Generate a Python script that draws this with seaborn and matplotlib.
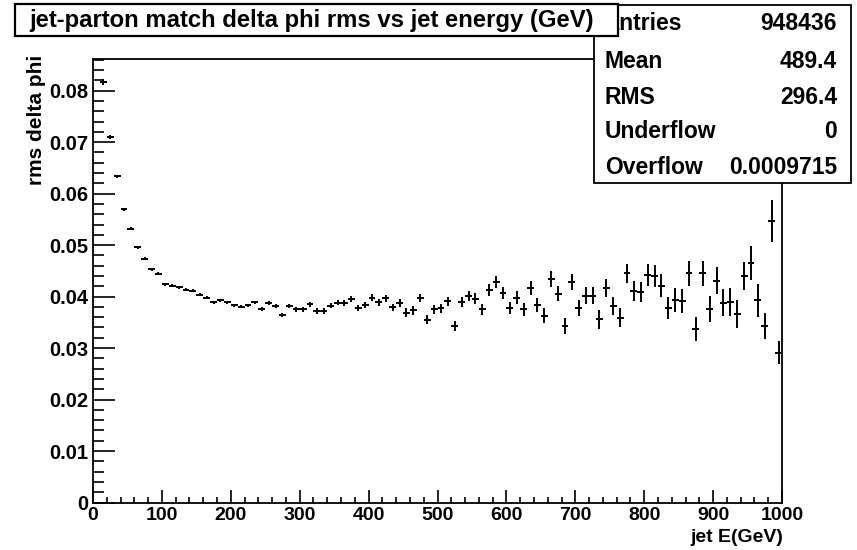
import numpy as np
import pandas as pd
import matplotlib
matplotlib.use("Agg")
import matplotlib.pyplot as plt
from matplotlib.patches import Rectangle
from matplotlib.ticker import MultipleLocator, FuncFormatter
import seaborn as sns

# Histogram: 100 bins of 10 GeV from 0 to 1000; first bin is empty
bin_width = 10
bin_centres = np.arange(15, 1000, bin_width)

rms_dphi = [
    0.0817, 0.0710, 0.0634, 0.0570, 0.0532, 0.0496, 0.0474, 0.0453, 0.0444, 0.0424,
    0.0421, 0.0418, 0.0413, 0.0411, 0.0404, 0.0398, 0.0389, 0.0393, 0.0389,
    0.0383, 0.0380, 0.0383, 0.0389, 0.0376, 0.0387, 0.0382, 0.0365, 0.0381, 0.0375,
    0.0375, 0.0385, 0.0372, 0.0372, 0.0382, 0.0388, 0.0387, 0.0396, 0.0378, 0.0383,
    0.0398, 0.0389, 0.0397, 0.0379, 0.0388, 0.0369, 0.0373, 0.0398, 0.0355, 0.0375,
    0.0377, 0.0391, 0.0343, 0.0390, 0.0401, 0.0396, 0.0375, 0.0413, 0.0428, 0.0407,
    0.0378, 0.0398, 0.0375, 0.0417, 0.0384, 0.0363, 0.0434, 0.0406, 0.0343, 0.0428,
    0.0378, 0.0402, 0.0402, 0.0356, 0.0417, 0.0382, 0.0359, 0.0445, 0.0411, 0.0409,
    0.0442, 0.0440, 0.0421, 0.0378, 0.0393, 0.0391, 0.0445, 0.0337, 0.0445, 0.0376,
    0.0431, 0.0388, 0.0389, 0.0366, 0.0440, 0.0466, 0.0393, 0.0343, 0.0547, 0.0291,
]

rms_err = [
    0.0005, 0.0004, 0.0003, 0.0003, 0.0003, 0.0003, 0.0003, 0.0003, 0.0003, 0.0003,
    0.0003, 0.0003, 0.0003, 0.0003, 0.0003, 0.0003, 0.0003, 0.0003, 0.0003,
    0.0003, 0.0003, 0.0003, 0.0003, 0.0004, 0.0004, 0.0004, 0.0004, 0.0004, 0.0004,
    0.0004, 0.0005, 0.0005, 0.0005, 0.0005, 0.0005, 0.0006, 0.0006, 0.0006, 0.0006,
    0.0007, 0.0007, 0.0007, 0.0007, 0.0008, 0.0008, 0.0008, 0.0008, 0.0009, 0.0009,
    0.0009, 0.0009, 0.0010, 0.0010, 0.0010, 0.0011, 0.0011, 0.0011, 0.0012, 0.0012,
    0.0012, 0.0012, 0.0013, 0.0013, 0.0014, 0.0014, 0.0015, 0.0015, 0.0015, 0.0016,
    0.0016, 0.0017, 0.0017, 0.0018, 0.0018, 0.0018, 0.0019, 0.0019, 0.0020, 0.0020,
    0.0021, 0.0021, 0.0022, 0.0022, 0.0023, 0.0023, 0.0024, 0.0024, 0.0025, 0.0025,
    0.0026, 0.0026, 0.0027, 0.0027, 0.0028, 0.0033, 0.0032, 0.0025, 0.0040, 0.0022,
]

title_text = "jet-parton match delta phi rms vs jet energy (GeV)"
x_label = "jet E(GeV)"
y_label = "rms delta phi"
stat_names = ["Entries", "Mean", "RMS", "Underflow", "Overflow"]
stat_values = ["948436", "489.4", "296.4", "0", "0.0009715"]

df = pd.DataFrame({"energy": bin_centres, "rms": rms_dphi, "err": rms_err})

sns.set_theme(style="white")
plt.rcParams["font.family"] = ["Liberation Sans", "DejaVu Sans"]
plt.rcParams["font.weight"] = "bold"

W, H = 857, 550
fig = plt.figure(figsize=(W / 100, H / 100), dpi=100)
fig.patch.set_facecolor("white")

def fx(px):
    return px / W

def fy(py):
    return 1 - py / H

ax_left, ax_right, ax_top, ax_bottom = 93, 782, 59.3, 502.5
ax = fig.add_axes([fx(ax_left), fy(ax_bottom), fx(ax_right - ax_left), (ax_bottom - ax_top) / H])
ax.set_facecolor("white")

# bin-width horizontal marks and vertical error bars
ax.errorbar(df["energy"], df["rms"], xerr=bin_width / 2, yerr=df["err"],
            fmt="none", ecolor="black", elinewidth=1.4, capsize=0, zorder=3)
sns.scatterplot(data=df, x="energy", y="rms", ax=ax, marker="_", s=20,
                color="black", linewidth=1.4, legend=False, zorder=3)

ax.set_xlim(0, 1000)
ax.set_ylim(0, 0.0861)
ax.set_xlabel("")
ax.set_ylabel("")

ax.xaxis.set_major_locator(MultipleLocator(100))
ax.xaxis.set_minor_locator(MultipleLocator(20))
ax.yaxis.set_major_locator(MultipleLocator(0.01))
ax.yaxis.set_minor_locator(MultipleLocator(0.002))
ax.yaxis.set_major_formatter(FuncFormatter(lambda v, p: f"{v:.2f}".rstrip("0").rstrip(".") if v else "0"))
ax.xaxis.set_major_formatter(FuncFormatter(lambda v, p: f"{v:.0f}"))

ax.tick_params(which="both", direction="in", color="black", width=1.2,
               top=False, right=False, bottom=True, left=True)
ax.tick_params(axis="x", which="major", length=9.4, pad=3, labelsize=14)
ax.tick_params(axis="x", which="minor", length=4.3)
ax.tick_params(axis="y", which="major", length=15.8, pad=3.5, labelsize=14.5)
ax.tick_params(axis="y", which="minor", length=8)
for lbl in ax.get_xticklabels() + ax.get_yticklabels():
    lbl.set_fontweight("bold")
    lbl.set_color("black")

for sp in ax.spines.values():
    sp.set_color("black")
    sp.set_linewidth(1.3)

fig.text(fx(783), fy(537), x_label, ha="right", va="center", fontsize=14,
         fontweight="bold", color="black")
fig.text(fx(37), fy(55), y_label, ha="center", va="top", rotation=90,
         fontsize=15, fontweight="bold", color="black")

# statistics box
sb_l, sb_r, sb_t, sb_b = 594, 851, 5, 183
fig.add_artist(Rectangle((fx(sb_l), fy(sb_b)), fx(sb_r - sb_l), (sb_b - sb_t) / H,
                         transform=fig.transFigure, facecolor="white",
                         edgecolor="black", linewidth=1.3, zorder=5))
row_y = [24, 61, 97, 132, 167]
for name, val, ry in zip(stat_names, stat_values, row_y):
    fig.text(fx(605), fy(ry), name, ha="left", va="center", fontsize=16.5,
             fontweight="bold", color="black", zorder=6)
    fig.text(fx(837), fy(ry), val, ha="right", va="center", fontsize=16.5,
             fontweight="bold", color="black", zorder=6)

# title box, drawn over the statistics box
tb_l, tb_r, tb_t, tb_b = 15, 618, 4, 36
fig.add_artist(Rectangle((fx(tb_l), fy(tb_b)), fx(tb_r - tb_l), (tb_b - tb_t) / H,
                         transform=fig.transFigure, facecolor="white",
                         edgecolor="black", linewidth=1.6, zorder=7))
fig.text(fx(312), fy(20), title_text, ha="center", va="center", fontsize=17.2,
         fontweight="bold", color="black", zorder=8)

fig.savefig("out.png", dpi=100, facecolor="white")
